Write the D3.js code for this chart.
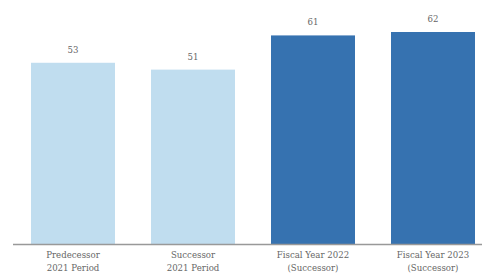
<!DOCTYPE html>
<html>
<meta charset="utf-8">
<head>
<script src="https://d3js.org/d3.v7.min.js"></script>
<style>
  body { margin: 0; background: #fff; }
  svg text { font-family: "DejaVu Serif", serif; }
</style>
</head>
<body>
<script>
// chart values
var categories = ["Predecessor|2021 Period", "Successor|2021 Period", "Fiscal Year 2022|(Successor)", "Fiscal Year 2023|(Successor)"];
var values = [53, 51, 61, 62];
var colors = ["#c0ddef", "#c0ddef", "#3672b0", "#3672b0"];

var width = 482, height = 278;
var baseline = 244;

var svg = d3.select("body").append("svg")
  .attr("width", width)
  .attr("height", height);

var x = d3.scaleBand()
  .domain(categories)
  .range([13, 493])
  .paddingInner(0.3)
  .paddingOuter(0.15);

var y = d3.scaleLinear()
  .domain([0, 62])
  .range([baseline, 32]);

svg.append("g")
  .selectAll("rect")
  .data(values)
  .enter().append("rect")
  .attr("x", function(d, i) { return x(categories[i]); })
  .attr("y", function(d) { return y(d); })
  .attr("width", x.bandwidth())
  .attr("height", function(d) { return baseline - y(d); })
  .style("fill", function(d, i) { return colors[i]; });

// value labels
svg.append("g")
  .selectAll("text")
  .data(values)
  .enter().append("text")
  .attr("x", function(d, i) { return x(categories[i]) + x.bandwidth() / 2; })
  .attr("y", function(d) { return y(d) - 10; })
  .attr("text-anchor", "middle")
  .style("font-size", "8.6px")
  .style("fill", "#666")
  .text(function(d) { return d; });

// axis line
svg.append("line")
  .attr("x1", 13).attr("x2", width)
  .attr("y1", baseline + 0.5).attr("y2", baseline + 0.5)
  .style("stroke", "#999")
  .style("stroke-width", 1.5);

// category labels
var cat = svg.append("g")
  .selectAll("text")
  .data(categories)
  .enter().append("text")
  .attr("text-anchor", "middle")
  .attr("x", function(d) { return x(d) + x.bandwidth() / 2; })
  .attr("y", 258)
  .style("font-size", "8.6px")
  .style("fill", "#666");

cat.selectAll("tspan")
  .data(function(d) { return d.split("|"); })
  .enter().append("tspan")
  .attr("x", function() { return d3.select(this.parentNode).attr("x"); })
  .attr("dy", function(d, i) { return i ? 13 : 0; })
  .text(function(d) { return d; });
</script>
</body>
</html>
